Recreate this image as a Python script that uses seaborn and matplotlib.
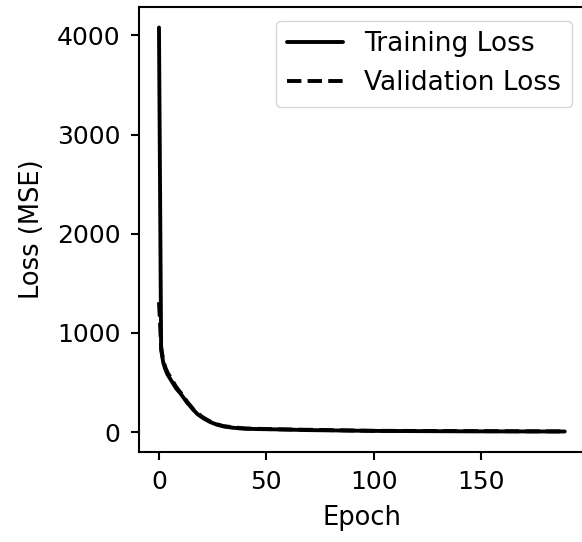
import matplotlib
matplotlib.use("Agg")
import matplotlib.pyplot as plt
import seaborn as sns
import pandas as pd

# Loss history sampled at selected epochs
train_epochs = [0, 1, 2, 3, 4, 6, 8, 10, 13, 16, 18, 21, 24, 27, 30, 34, 38, 45, 56, 70, 100, 140, 189]
train_loss = [4080, 830, 700, 630, 580, 510, 440, 390, 300, 225, 180, 135, 100, 75, 58, 45, 37, 31, 27, 20, 12, 8, 6]

val_epochs = [0, 1, 2, 3, 4, 6, 8, 10, 13, 16, 20, 25, 30, 40, 56, 100, 189]
val_loss = [1310, 860, 720, 650, 600, 530, 455, 400, 310, 230, 155, 92, 60, 36, 28, 13, 7]

sns.set_theme(style="ticks")
plt.rcParams["font.family"] = ["DejaVu Sans"]
plt.rcParams.update({
    "text.color": "black",
    "axes.labelcolor": "black",
    "xtick.color": "black",
    "ytick.color": "black",
})

fig = plt.figure(figsize=(5.82, 5.42), dpi=100)
ax = fig.add_axes([0.2383, 0.1666, 0.7669, 0.8199])

train_df = pd.DataFrame({"Epoch": train_epochs, "Loss": train_loss})
val_df = pd.DataFrame({"Epoch": val_epochs, "Loss": val_loss})

sns.lineplot(data=train_df, x="Epoch", y="Loss", ax=ax, color="black",
             linewidth=2.8, label="Training Loss")
sns.lineplot(data=val_df, x="Epoch", y="Loss", ax=ax, color="black",
             linewidth=2.8, linestyle="--", label="Validation Loss")

ax.set_xticks([0, 50, 100, 150])
ax.set_yticks([0, 1000, 2000, 3000, 4000])
ax.tick_params(labelsize=18, width=1.5, length=6, pad=7, color="black")
ax.set_xlabel("Epoch", fontsize=18.5, labelpad=8)
ax.set_ylabel("Loss (MSE)", fontsize=18.5, labelpad=9)
for s in ax.spines.values():
    s.set_color("black")
    s.set_linewidth(1.5)

ax.legend(loc="upper right", fontsize=19, frameon=True, handlelength=2.15)

fig.savefig("out.png", dpi=100)
